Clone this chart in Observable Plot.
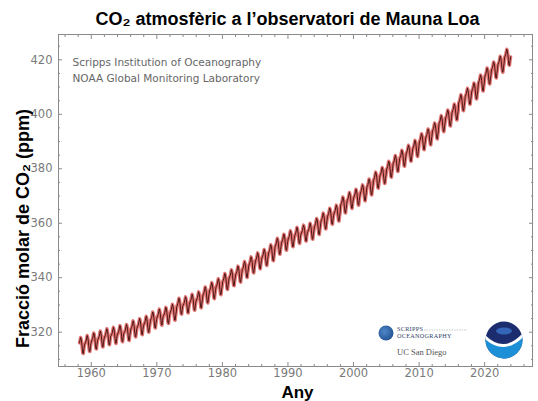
<!DOCTYPE html>
<html><head><meta charset="utf-8">
<script src="https://cdn.jsdelivr.net/npm/d3@7"></script>
<script src="https://cdn.jsdelivr.net/npm/@observablehq/plot@0.6"></script>
<style>
body{margin:0;background:#fff}
#c{position:relative;width:538px;height:401px;overflow:hidden}
#logos{position:absolute;left:0;top:0}
</style>
</head><body><div id="c"></div><script>
// Annual means at Mauna Loa (ppm), 1958..2023
const firstYear = 1958;
const annualMean = [315.25,315.98,316.91,317.64,318.45,318.99,319.62,320.04,321.37,322.18,
  323.05,324.62,325.68,326.32,327.46,329.68,330.19,331.13,332.03,333.84,
  335.41,336.84,338.76,340.12,341.48,343.15,344.87,346.35,347.61,349.31,
  351.69,353.20,354.45,355.70,356.54,357.21,358.96,360.97,362.74,363.88,
  366.84,368.54,369.71,371.32,373.45,375.98,377.70,379.98,382.09,384.02,
  385.83,387.64,390.10,391.85,394.06,396.74,398.81,401.01,404.41,406.76,
  408.72,411.66,414.24,416.45,418.56,421.08];
// Typical month-minus-annual-mean offsets (ppm), Jan..Dec
const seasonal = [-0.2,0.3,0.8,1.9,2.8,2.2,0.8,-1.3,-3.0,-3.1,-1.3,0.0];
const firstMonth1958 = 2; // record starts in March 1958
const xTicks = [1960,1970,1980,1990,2000,2010,2020];
const yTicks = [320,340,360,380,400,420];
const xMinor = [1956,1958,1962,1964,1966,1968,1972,1974,1976,1978,1982,1984,1986,1988,1992,1994,1996,1998,2002,2004,2006,2008,2012,2014,2016,2018,2022,2024,2026];
const yMinor = [310,315,325,330,335,345,350,355,365,370,375,385,390,395,405,410,415,425];
const titleText = "CO₂ atmosfèric a l’observatori de Mauna Loa";
const yLabel = "Fracció molar de CO₂ (ppm)";
const xLabel = "Any";
const sourceLines = ["Scripps Institution of Oceanography","NOAA Global Monitoring Laboratory"];

const monthly = [];
annualMean.forEach((a, i) => {
  const yr = firstYear + i;
  seasonal.forEach((s, m) => {
    if (yr === firstYear && m < firstMonth1958) return;
    monthly.push({t: yr + (m + 0.5) / 12, ppm: a + s});
  });
});

const gray = "#8a8a8a";
const chart = Plot.plot({
  width: 538, height: 401,
  marginTop: 34, marginBottom: 35, marginLeft: 58, marginRight: 6,
  x: {domain: [1955, 2027.3]},
  y: {domain: [307.4, 429.3]},
  style: {fontFamily: "DejaVu Sans", background: "#fff"},
  marks: [
    Plot.line(monthly, {x: "t", y: "ppm", stroke: "#d43a36", strokeWidth: 3.4, strokeOpacity: 0.7}),
    Plot.line(monthly, {x: "t", y: "ppm", stroke: "#3a0c0c", strokeWidth: 0.9}),
    Plot.frame({stroke: gray}),
    Plot.axisX({ticks: xTicks, tickSize: 0, tickPadding: 2, tickFormat: d => String(d), fontSize: 11.5, color: "#7a7a7a", label: null}),
    Plot.axisX({ticks: xTicks, tickSize: -4, tickFormat: () => "", color: gray, label: null}),
    Plot.axisX({ticks: xMinor, tickSize: -2, tickFormat: () => "", color: gray, label: null}),
    Plot.axisX({anchor: "top", ticks: xTicks, tickSize: -4, tickFormat: () => "", color: gray, label: null}),
    Plot.axisX({anchor: "top", ticks: xMinor, tickSize: -2, tickFormat: () => "", color: gray, label: null}),
    Plot.axisY({ticks: yTicks, tickSize: 0, tickPadding: 6, fontSize: 11.5, color: "#7a7a7a", label: null}),
    Plot.axisY({ticks: yTicks, tickSize: -4, tickFormat: () => "", color: gray, label: null}),
    Plot.axisY({ticks: yMinor, tickSize: -2, tickFormat: () => "", color: gray, label: null}),
    Plot.axisY({anchor: "right", ticks: yTicks, tickSize: -4, tickFormat: () => "", color: gray, label: null}),
    Plot.axisY({anchor: "right", ticks: yMinor, tickSize: -2, tickFormat: () => "", color: gray, label: null}),
    Plot.text([sourceLines[0]], {frameAnchor: "top-left", dx: 14, dy: 28, lineAnchor: "middle", textAnchor: "start", fontSize: 10.5, fill: "#666"}),
    Plot.text([sourceLines[1]], {frameAnchor: "top-left", dx: 14, dy: 44, lineAnchor: "middle", textAnchor: "start", fontSize: 10.5, fill: "#666"}),
    Plot.text([titleText], {frameAnchor: "top", dx: -8, dy: -10, lineAnchor: "bottom", fontSize: 18, fontWeight: "bold", fontFamily: "Liberation Sans", fill: "#000"}),
    Plot.text([yLabel], {frameAnchor: "left", textAnchor: "middle", dx: -35, dy: 28, rotate: -90, lineAnchor: "middle", fontSize: 18, fontWeight: "bold", fontFamily: "Liberation Sans", fill: "#000"}),
    Plot.text([xLabel], {frameAnchor: "bottom", dx: 2, dy: 31, lineAnchor: "bottom", fontSize: 17, fontWeight: "bold", fontFamily: "Liberation Sans", fill: "#000"})
  ]
});
const c = document.getElementById("c");
c.appendChild(chart);

// decorative logos (bottom-right)
const ns = "http://www.w3.org/2000/svg";
const logo = document.createElementNS(ns, "svg");
logo.setAttribute("id", "logos");
logo.setAttribute("width", 538); logo.setAttribute("height", 401);
logo.innerHTML = `
<defs>
 <clipPath id="noaaClip"><circle cx="504" cy="340" r="18.5"/></clipPath>
 <radialGradient id="scr" cx="0.4" cy="0.4" r="0.7"><stop offset="0" stop-color="#4f86c8"/><stop offset="1" stop-color="#1f4f8f"/></radialGradient>
</defs>
<circle cx="386" cy="333" r="7.5" fill="url(#scr)"/>
<text x="397" y="331" font-family="Liberation Serif" font-size="6.2" fill="#2c3e66" letter-spacing="0.3">SCRIPPS</text>
<line x1="424" y1="330" x2="467" y2="330" stroke="#9aa" stroke-width="0.6" stroke-dasharray="1.5,1"/>
<text x="397" y="338" font-family="Liberation Serif" font-size="6.2" fill="#2c3e66" letter-spacing="0.3">OCEANOGRAPHY</text>
<text x="397" y="355" font-family="Liberation Serif" font-size="8.5" fill="#555">UC San Diego</text>
<g clip-path="url(#noaaClip)">
 <rect x="484" y="320" width="40" height="40" fill="#1b2d6e"/>
 <ellipse cx="504" cy="331" rx="8" ry="3.5" fill="#3565b8"/>
 <path d="M484,336 Q504,356 524,334 L524,362 L484,362 Z" fill="#1d8fd6"/>
 <path d="M484,336 Q504,356 524,334" fill="none" stroke="#fff" stroke-width="3"/>
</g>`;
c.appendChild(logo);
</script></body></html>
